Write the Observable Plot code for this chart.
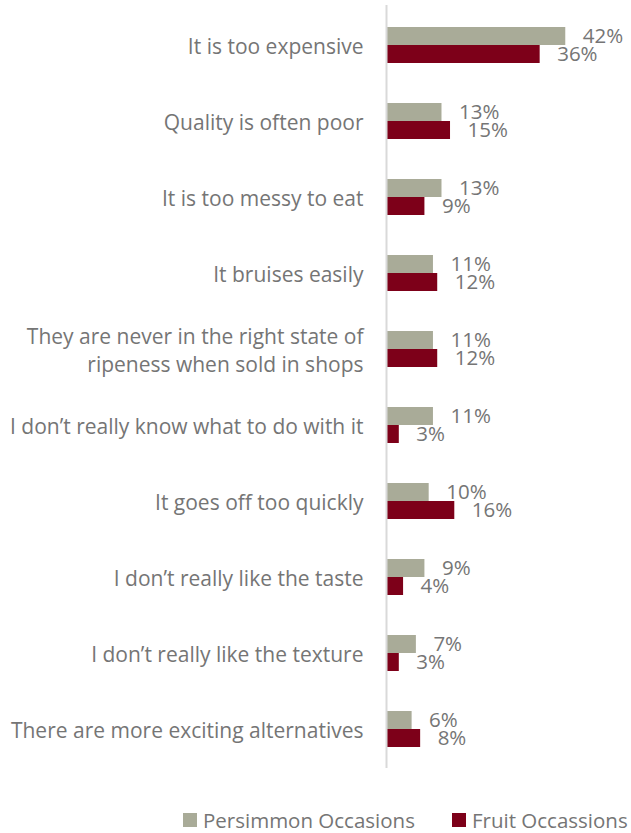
<!DOCTYPE html>
<html>
<head>
<meta charset="utf-8">
<script src="https://cdn.jsdelivr.net/npm/d3@7"></script>
<script src="https://cdn.jsdelivr.net/npm/@observablehq/plot@0.6"></script>
<style>
  body { margin: 0; background: #fff; font-family: "Open Sans", sans-serif; }
  #legend { position: relative; height: 43px; font-size: 20.5px; color: #757575; }
  .item { position: absolute; top: 16px; display: flex; align-items: center; white-space: nowrap; }
  .sw { width: 14px; height: 14px; display: inline-block; margin-right: 6px; }
</style>
</head>
<body>
<div id="chart"></div>
<div id="legend"></div>
<script>
const categories = [
  "It is too expensive",
  "Quality is often poor",
  "It is too messy to eat",
  "It bruises easily",
  "They are never in the right state of\nripeness when sold in shops",
  "I don\u2019t really know what to do with it",
  "It goes off too quickly",
  "I don\u2019t really like the taste",
  "I don\u2019t really like the texture",
  "There are more exciting alternatives"
];
const persimmon = [42, 13, 13, 11, 11, 11, 10, 9, 7, 6];
const fruit = [36, 15, 9, 12, 12, 3, 16, 4, 3, 8];
const seriesNames = ["Persimmon Occasions", "Fruit Occassions"];
const colors = ["#a9ab98", "#7d0019"];

const pData = categories.map((c, i) => ({category: c, value: persimmon[i]}));
const fData = categories.map((c, i) => ({category: c, value: fruit[i]}));

const textColor = "#757575";
const chart = Plot.plot({
  width: 631,
  height: 790,
  marginLeft: 386,
  marginRight: 0,
  marginTop: 5,
  marginBottom: 22,
  style: {fontFamily: "Open Sans, sans-serif", color: textColor},
  x: {domain: [0, 57.4], axis: null},
  y: {domain: categories, paddingInner: 0.527, paddingOuter: 0.276, label: null},
  marks: [
    Plot.barX(pData, {x: "value", y: "category", fill: colors[0], insetBottom: 18}),
    Plot.barX(fData, {x: "value", y: "category", fill: colors[1], insetTop: 18}),
    Plot.ruleX([0], {stroke: "#d9d9d9", strokeWidth: 2}),
    Plot.text(pData, {x: "value", y: "category", text: d => d.value + "%", dy: -9, dx: 17, textAnchor: "start", fontSize: 20.5, fill: textColor}),
    Plot.text(fData, {x: "value", y: "category", text: d => d.value + "%", dy: 9, dx: 17, textAnchor: "start", fontSize: 20.5, fill: textColor}),
    Plot.axisY({tickSize: 0, tickPadding: 23, fontSize: 21, lineHeight: 1.33, fill: textColor, textOverflow: null, lineWidth: Infinity})
  ]
});
document.getElementById("chart").appendChild(chart);

const legend = document.getElementById("legend");
const positions = [183, 452];
seriesNames.forEach((name, i) => {
  const item = document.createElement("div");
  item.className = "item";
  item.style.left = positions[i] + "px";
  const sw = document.createElement("span");
  sw.className = "sw";
  sw.style.background = colors[i];
  item.appendChild(sw);
  item.appendChild(document.createTextNode(name));
  legend.appendChild(item);
});
</script>
</body>
</html>
